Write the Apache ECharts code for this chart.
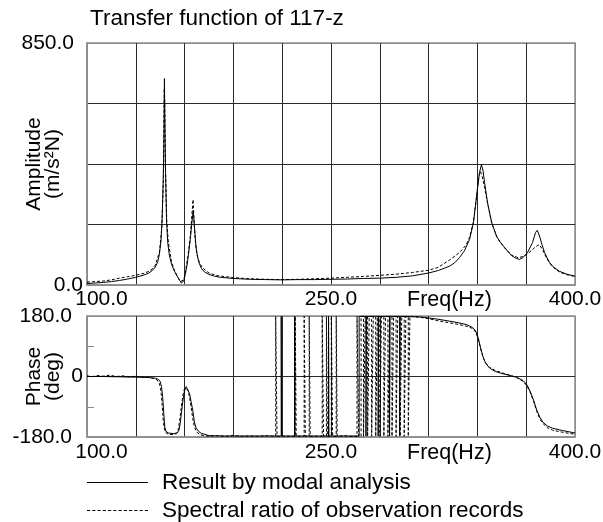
<!DOCTYPE html>
<html>
<head>
<meta charset="utf-8">
<script src="https://cdn.jsdelivr.net/npm/echarts@6/dist/echarts.min.js"></script>
<style>html,body{margin:0;padding:0;background:#fff}#c{width:603px;height:522px}</style>
</head>
<body>
<div id="c"></div>
<script>
// ---- data ----
var xTickLabels = [100, 250, 400];
var seriesNames = ['Result by modal analysis', 'Spectral ratio of observation records'];

// amplitude (m/s^2 N) vs frequency (Hz)
var ampModal = [[100,5],[105,7],[110,9],[115,12],[120,16],[125,21],[130,27],[135,35],[138,42],[140,50],[142,63],[143.5,82],[144.5,108],[145.5,155],[146.2,235],[146.8,355],[147.3,520],[147.6,725],[147.9,560],[148.3,395],[148.9,225],[149.7,145],[150.7,102],[152,72],[153.8,48],[155.5,30],[156.9,17],[158,7],[158.7,3],[159.5,14],[160.5,40],[161.5,70],[162.4,108],[163.5,160],[164.5,220],[165.3,263],[166.1,200],[167,135],[168,97],[169.2,72],[170.5,57],[172.2,46],[175,37],[178.4,31],[182,27],[186,25],[190,23],[200,20],[210,19],[220,18],[230,19],[240,19],[250,20],[260,21],[270,23],[280,24],[290,27],[300,32],[310,42],[316,51],[322.9,66],[326,78],[329,96],[332,120],[335.2,160],[337.6,220],[339.5,312],[341.3,395],[342.5,423],[343.5,400],[344.4,360],[346.2,290],[348.7,220],[351.8,171],[354,150],[356.7,132],[361,103],[364,93],[365.9,90],[368,96],[370.8,114],[373.9,149],[375.7,184],[376.8,192],[378.2,172],[379.8,140],[381.3,114],[384.3,79],[387,62],[390.5,48],[395,38],[400,31]];
var ampObserved = [[100,10],[105,12],[110,14],[115,18],[120,24],[125,29],[130,34],[135,41],[138,48],[140,56],[142,70],[144.5,115],[146,200],[147,380],[147.5,690],[147.8,640],[148.2,420],[149,230],[150,150],[152,80],[154,48],[156,26],[157.5,12],[158.5,5],[159.5,18],[160.5,45],[162,100],[163.5,170],[164.8,270],[165.2,300],[165.8,230],[166.5,160],[167.5,110],[169,80],[171,60],[175,42],[180,33],[190,26],[200,22],[210,20],[220,19],[230,20],[240,22],[250,24],[260,27],[270,30],[280,34],[290,38],[300,44],[310,52],[316,62],[322.9,88],[329,114],[333,140],[335.2,168],[337.5,220],[339.3,300],[340.8,380],[341.8,400],[343,380],[344.5,340],[346.5,280],[349,215],[352,168],[357,128],[361,105],[365,96],[368,100],[371,110],[374,125],[376,135],[378,142],[380,125],[382,100],[385,72],[388,55],[391,44],[395,36],[400,30]];

// phase (deg) vs frequency (Hz)
var phaseModal = [[100,0],[110,0],[120,-1],[130,-2],[138,-3],[142,-5],[144,-9],[145,-15],[145.8,-30],[146.5,-60],[147.2,-110],[147.8,-150],[148.5,-163],[150,-168],[153,-170],[155.5,-168],[156.5,-160],[157.3,-140],[158,-110],[159,-70],[160,-42],[161,-30],[162,-34],[163,-50],[164,-75],[165,-100],[166,-135],[167,-152],[168.5,-163],[170.2,-169],[175,-176],[185,-177],[200,-177],
[219.4,-177],[219.4,179],[219.6,179],[219.6,-177],
[227.6,-177],[227.6,179],[227.8,179],[227.8,-177],
[248.5,-177],[248.5,179],[248.7,179],[248.7,-177],
[267.3,-177],[267.3,179],[271.5,179],[271.5,-177],[271.8,-177],[271.8,179],
[279,179],[279,-177],[279.3,-177],[279.3,179],
[286,179],[286,-177],[286.3,-177],[286.3,179],
[292.2,179],[292.2,-177],[292.5,-177],[292.5,179],
[300,178],[305,177],[315,171],[325,163],[333,155],[337,146],[339,135],[340.5,115],[342,85],[343.5,58],[345,40],[347.5,25],[351,15],[355,9],[360,3],[364,-2],[368,-12],[370.5,-25],[372.5,-45],[374.5,-70],[376.5,-100],[378.5,-122],[380.5,-137],[383,-147],[386.3,-154],[392.5,-161],[400,-168]];
var phaseObserved = [[100,2],[103,-1],[106,3],[110,1],[114,4],[118,0],[122,2],[126,-1],[130,1],[134,-2],[138,-3],[141,-6],[143,-10],[144.5,-20],[145.5,-45],[146.3,-90],[147,-140],[148,-165],[150,-172],[153,-173],[155,-170],[156,-160],[157,-130],[158,-90],[159,-55],[160,-35],[161,-33],[162,-40],[163,-60],[164,-90],[165,-125],[166,-150],[167.5,-166],[170,-174],[175,-178],[180,-176],[185,-178],[190,-175],[195,-178],[200,-177],[205,-178],[210,-176],[216,-178],
[216,179],[216.8,179],[216.8,-178],
[228,-178],[228,179],[228.6,179],[228.6,-178],
[233.5,-178],[233.5,179],[234.2,179],[234.2,-178],
[236.6,-178],[236.6,179],[237.2,179],[237.2,-178],
[244.6,-178],[244.6,179],[245.4,179],[245.4,-178],
[247.2,-178],[247.2,179],[247.8,179],[247.8,-178],
[250.2,-178],[250.2,179],[251,179],[251,-178],
[253.2,-178],[253.2,179],[253.8,179],[253.8,-178],
[258,-176],[262,-178],
[266,-178],[266,179],[267,179],[267,-178],
[268.5,-178],[268.5,179],[270,179],[270,-178],
[271,-178],[271,179],[272.5,179],[272.5,-178],
[273.5,-178],[273.5,179],[275,179],[275,-178],
[276,-178],[276,179],[277.5,179],[277.5,-178],
[278.5,-178],[278.5,179],[280,179],[280,-178],
[281,-178],[281,179],[282.5,179],[282.5,-178],
[283.5,-178],[283.5,179],[285,179],[285,-178],
[286,-178],[286,179],[287.5,179],[287.5,-178],
[288.5,-178],[288.5,179],[290,179],[290,-178],
[291,-178],[291,179],[292.5,179],[292.5,-178],
[293.5,-178],[293.5,179],[295,179],[295,-178],
[296,-178],[296,179],[297.5,179],[297.5,-178],
[298.5,-178],[298.5,179],[300.5,178],[305,176],[310,172],[316.7,165],[325,158],[333,150],[337,143],[339,132],[340.5,112],[342,82],[343.5,57],[345,40],[347.5,27],[351,18],[355,11],[360,4],[364,-3],[368,-14],[370.5,-28],[372.5,-48],[374.5,-74],[376.5,-104],[378.5,-127],[380.5,-141],[383,-152],[386.3,-160],[392.5,-166],[400,-172]];

// ---- chart ----
var FONT = 'Liberation Sans';
var GRAY = '#8c8c8c';
var DARK = '#2a2a2a';
var chart = echarts.init(document.getElementById('c'), null, {renderer: 'canvas'});

// legend key icons (style only): a solid bar and a dashed bar
var dashPath = 'path://';
for (var d = 0; d < 12; d++) dashPath += 'M' + (d * 5) + ',0h3v1h-3z';
var solidPath = 'path://M0,0h58v1h-58z';

function xLabelFmt(v) {
  var r = Math.round(v * 10) / 10;
  if (xTickLabels.indexOf(r) < 0) return '';
  if (r === xTickLabels[0]) return '{first|' + r.toFixed(1) + '}';
  return r.toFixed(1);
}
function xAxisCfg(gi, margin) {
  var cols = [];
  for (var i = 0; i <= 10; i++) cols.push(i === 0 || i === 10 ? GRAY : DARK);
  return {
    type: 'value', gridIndex: gi, min: 100, max: 400, interval: 30,
    axisLine: {show: true, onZero: false, lineStyle: {color: GRAY, width: 1.5}},
    axisTick: {show: false},
    splitLine: {show: true, lineStyle: {color: cols, width: 1}},
    axisLabel: {
      show: true, margin: margin, color: '#000', fontFamily: FONT, fontSize: 21,
      formatter: xLabelFmt, showMinLabel: true, showMaxLabel: true, hideOverlap: false,
      rich: {first: {fontFamily: FONT, fontSize: 21, color: '#000', padding: [0, 0, 0, 29]}}
    }
  };
}
function legendCfg(name, icon, top) {
  return {
    orient: 'horizontal', left: 87, top: top, padding: 0, itemWidth: 61, itemHeight: 1.2,
    selectedMode: false, data: [{name: name, icon: icon}],
    itemStyle: {color: '#000', borderWidth: 0},
    textStyle: {fontFamily: FONT, fontSize: 22.5, lineHeight: 23, color: '#000', padding: [0, 0, 0, 9]}
  };
}

var option = {
  animation: false,
  backgroundColor: '#fff',
  title: {
    text: 'Transfer function of 117-z', left: 90, top: 7, padding: 0,
    textStyle: {fontFamily: FONT, fontSize: 22.5, fontWeight: 'normal', color: '#000'}
  },
  legend: [legendCfg(seriesNames[0], solidPath, 471), legendCfg(seriesNames[1], dashPath, 499)],
  graphic: [
    {type: 'text', left: 407, top: 289, style: {text: 'Freq(Hz)', font: '21.5px "' + FONT + '"', fill: '#000'}},
    {type: 'text', left: 407, top: 442, style: {text: 'Freq(Hz)', font: '21.5px "' + FONT + '"', fill: '#000'}}
  ],
  grid: [
    {left: 87, width: 488, top: 43, height: 242, show: true, borderColor: GRAY, borderWidth: 1.5, containLabel: false, outerBoundsMode: 'none'},
    {left: 87, width: 488, top: 316, height: 121, show: true, borderColor: GRAY, borderWidth: 1.5, containLabel: false, outerBoundsMode: 'none'}
  ],
  xAxis: [xAxisCfg(0, 4), xAxisCfg(1, 5)],
  yAxis: [
    {
      type: 'value', gridIndex: 0, min: 0, max: 850, interval: 212.5,
      name: 'Amplitude\n(m/s\u00B2N)', nameLocation: 'middle', nameRotate: 90, nameGap: 24, nameMoveOverlap: false,
      nameTextStyle: {fontFamily: FONT, fontSize: 21, color: '#000', lineHeight: 19, align: 'center'},
      axisLine: {show: true, lineStyle: {color: GRAY, width: 1.5}},
      axisTick: {show: false},
      splitLine: {show: true, lineStyle: {color: [GRAY, DARK, DARK, DARK, GRAY], width: 1}},
      axisLabel: {
        margin: 4, color: '#000', fontFamily: FONT, fontSize: 21,
        showMinLabel: true, showMaxLabel: true,
        formatter: function (v) { return v === 0 ? '{z|0.0}' : (v === 850 ? '{n|850.0}' : ''); },
        rich: {z: {fontFamily: FONT, fontSize: 21, color: '#000'},
               n: {fontFamily: FONT, fontSize: 21, color: '#000', padding: [0, 9, 0, 0]}}
      }
    },
    {
      type: 'value', gridIndex: 1, min: -180, max: 180, interval: 90,
      name: 'Phase\n(deg)', nameLocation: 'middle', nameRotate: 90, nameGap: 24, nameMoveOverlap: false,
      nameTextStyle: {fontFamily: FONT, fontSize: 21, color: '#000', lineHeight: 19, align: 'center'},
      axisLine: {show: true, lineStyle: {color: GRAY, width: 1.5}},
      axisTick: {show: true, inside: true, length: 7, lineStyle: {color: GRAY, width: 1}},
      splitLine: {show: true, lineStyle: {color: [GRAY, 'rgba(0,0,0,0)', DARK, 'rgba(0,0,0,0)', GRAY], width: 1}},
      axisLabel: {
        margin: 4, color: '#000', fontFamily: FONT, fontSize: 21,
        showMinLabel: true, showMaxLabel: true,
        formatter: function (v) {
          if (v === 0) return '{z|0}';
          if (v === 180 || v === -180) return '{n|' + v.toFixed(1) + '}';
          return '';
        },
        rich: {z: {fontFamily: FONT, fontSize: 21, color: '#000'},
               n: {fontFamily: FONT, fontSize: 21, color: '#000', padding: [0, 11, 0, 0]}}
      }
    }
  ],
  series: [
    {name: seriesNames[0], type: 'line', xAxisIndex: 0, yAxisIndex: 0, data: ampModal,
     symbol: 'none', showSymbol: false, lineStyle: {color: '#000', width: 1, type: 'solid'}, itemStyle: {color: '#000'}, z: 3},
    {name: seriesNames[1], type: 'line', xAxisIndex: 0, yAxisIndex: 0, data: ampObserved,
     symbol: 'none', showSymbol: false, lineStyle: {color: '#000', width: 1, type: [3, 2]}, itemStyle: {color: '#000'}, z: 2},
    {name: seriesNames[0], type: 'line', xAxisIndex: 1, yAxisIndex: 1, data: phaseModal,
     symbol: 'none', showSymbol: false, lineStyle: {color: '#000', width: 1, type: 'solid'}, itemStyle: {color: '#000'}, z: 3},
    {name: seriesNames[1], type: 'line', xAxisIndex: 1, yAxisIndex: 1, data: phaseObserved,
     symbol: 'none', showSymbol: false, lineStyle: {color: '#000', width: 1, type: [3, 2]}, itemStyle: {color: '#000'}, z: 2}
  ]
};
chart.setOption(option);
</script>
</body>
</html>
